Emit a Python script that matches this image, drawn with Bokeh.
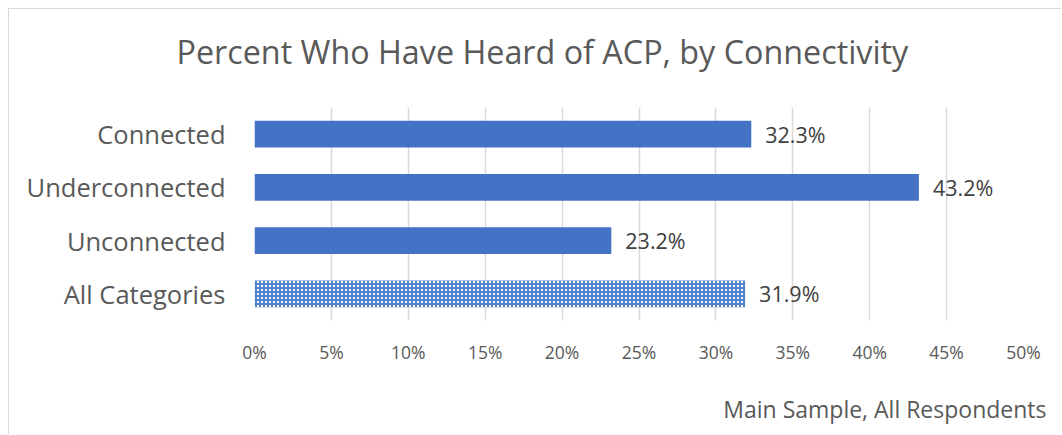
from bokeh.plotting import figure
from bokeh.models import Title, FactorRange, Range1d, FixedTicker
from bokeh.core.properties import value
from bokeh.embed import file_html
from bokeh.resources import INLINE

categories = ["Connected", "Underconnected", "Unconnected"]
values = [32.3, 43.2, 23.2]
total_category = "All Categories"
total_value = 31.9
x_ticks = [0, 5, 10, 15, 20, 25, 30, 35, 40, 45, 50]
title_text = "Percent Who Have Heard of ACP, by Connectivity"
footer_text = "Main Sample, All Respondents"

FONT = "Open Sans"
GREY = "#595959"
BLUE = "#4472C4"

factors = list(reversed(categories + [total_category]))

p = figure(width=1053, height=426, y_range=FactorRange(factors=factors),
           x_range=Range1d(0, 50), output_backend="svg", toolbar_location=None,
           min_border_left=245, min_border_right=39, min_border_top=98,
           min_border_bottom=115)
p.styles = {"margin-left": "8px", "margin-top": "8px",
            "border-left": "1px solid #D9D9D9", "border-top": "1px solid #D9D9D9"}
p.outline_line_color = None
p.border_fill_color = "white"
p.background_fill_color = "white"

p.hbar(y=categories, right=values, left=0, height=0.5, fill_color=BLUE, line_color=None)
p.hbar(y=[total_category], right=[total_value], left=0, height=0.5,
       fill_color="white", line_color=None,
       hatch_pattern="+", hatch_color="#5383CC", hatch_scale=4, hatch_weight=2)

all_x = values + [total_value]
all_y = categories + [total_category]
p.text(x=all_x, y=all_y, text=[f"{v:.1f}%" for v in all_x], x_offset=14,
       text_baseline="middle", text_align="left", text_color="#404040",
       text_font=value(FONT), text_font_size="21.5px")

p.xaxis.ticker = FixedTicker(ticks=x_ticks)
p.xaxis.major_label_overrides = {t: f"{t}%" for t in x_ticks}
p.xaxis.axis_line_color = None
p.xaxis.major_tick_line_color = None
p.xaxis.minor_tick_line_color = None
p.xaxis.major_tick_out = 0
p.xaxis.minor_tick_out = 0
p.xaxis.major_label_standoff = 19
p.xaxis.major_label_text_font = FONT
p.xaxis.major_label_text_font_size = "17.5px"
p.xaxis.major_label_text_color = GREY

p.yaxis.axis_line_color = None
p.yaxis.major_tick_line_color = None
p.yaxis.minor_tick_line_color = None
p.yaxis.major_label_standoff = 23
p.yaxis.major_label_text_font = FONT
p.yaxis.major_label_text_font_size = "25.5px"
p.yaxis.major_label_text_color = GREY

p.xgrid.grid_line_color = "#D9D9D9"
p.xgrid.grid_line_width = 1.5
p.ygrid.grid_line_color = None

# spacer between the frame and the title
p.add_layout(Title(text=" ", text_font_size="1px", standoff=27), "above")
p.add_layout(Title(text=title_text, align="left", offset=-78, standoff=10,
                   vertical_align="bottom", text_font=FONT, text_font_size="32.3px",
                   text_font_style="normal", text_color=GREY), "above")
# spacer between the x axis and the footer note
p.add_layout(Title(text=" ", text_font_size="1px", standoff=21), "below")
p.add_layout(Title(text=footer_text, align="right", offset=-23, standoff=0,
                   vertical_align="bottom", text_font=FONT, text_font_size="23px",
                   text_font_style="normal", text_color=GREY), "below")

open("out.html", "w").write(file_html(p, INLINE))
